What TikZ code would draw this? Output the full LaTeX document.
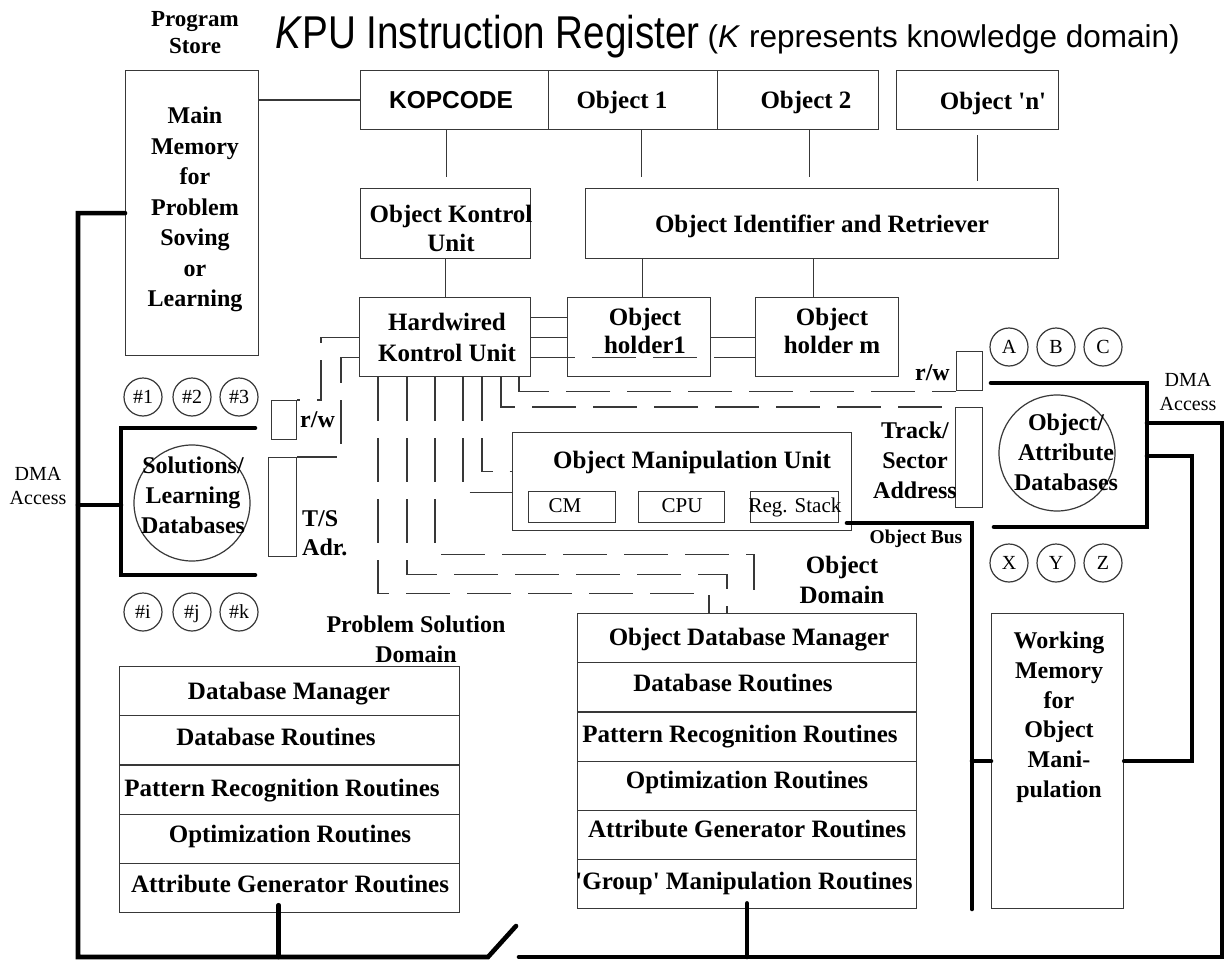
\documentclass[tikz,border=0pt]{standalone}
\usepackage{fontspec}
\setmainfont{Liberation Serif}
\newfontfamily\arialf{Liberation Sans}
\usetikzlibrary{calc}
\definecolor{lc}{gray}{0.22}
\begin{document}
\begin{tikzpicture}[x=1pt,y=-1pt,
  ln/.style={draw=lc, line width=1.2pt},
  dsh/.style={ln, dash pattern=on 44pt off 17pt},
  bus/.style={draw=black, line width=4.6pt, line cap=round},
  bx/.style={draw=lc, line width=1.2pt, inner sep=0pt, anchor=north west, rectangle},
  bt/.style={font=\bfseries\fontsize{25}{30}\selectfont, inner sep=0pt, align=center},
  mt/.style={font=\bfseries\fontsize{24}{30}\selectfont, inner sep=0pt, align=center},
  rt/.style={font=\fontsize{20}{24.5}\selectfont, inner sep=0pt, align=center},
  ct/.style={font=\fontsize{21}{24}\selectfont, inner sep=0pt},
  circ/.style={draw=lc, line width=1.2pt, circle, inner sep=0pt, minimum size=38pt,
    text height=13.5pt, text depth=0pt, font=\fontsize{20}{24}\selectfont},
  big/.style={draw=lc, line width=1.2pt, circle, inner sep=0pt, minimum size=116pt},
]
\useasboundingbox (0,0) rectangle (1225,960);
\fill[white] (0,0) rectangle (1225,960);

% ---------- title ----------
\node[inner sep=0pt, anchor=base west, font=\arialf\fontsize{46}{50}\selectfont] (t1) at (275,49)
  {\scalebox{0.84}[1]{\textit{K}PU Instruction Register}};
\node[inner sep=0pt, anchor=base east, font=\arialf\fontsize{31.5}{36}\selectfont] (t2) at (1180,48)
  {(\textit{K} represents knowledge domain)};
\node[mt, anchor=north, font=\bfseries\fontsize{23}{27}\selectfont] (ps) at (195,10.8) {Program\\Store};

% ---------- boxes ----------
\node[bx, minimum width=133pt, minimum height=285pt] (mm) at (125,70) {};
\node[bx, minimum width=188pt, minimum height=59pt] (kc) at (360,70) {};
\node[bx, minimum width=169pt, minimum height=59pt] (o1c) at (548,70) {};
\node[bx, minimum width=161pt, minimum height=59pt] (o2c) at (717,70) {};
\node[bx, minimum width=162pt, minimum height=59pt] (onc) at (896,70) {};
\node[bx, minimum width=170pt, minimum height=70pt] (okd) at (360,188) {};
\node[bx, minimum width=473pt, minimum height=70pt] (oir) at (585,188) {};
\node[bx, minimum width=171pt, minimum height=79pt] (hw) at (359,297) {};
\node[bx, minimum width=143pt, minimum height=79pt] (h1) at (567,297) {};
\node[bx, minimum width=143pt, minimum height=79pt] (hm) at (755,297) {};
\node[bx, minimum width=339pt, minimum height=98pt] (omu) at (512,432) {};
\node[bx, minimum width=87pt, minimum height=31pt] (cm) at (528,491) {};
\node[bx, minimum width=86pt, minimum height=31pt] (cpu) at (638,491) {};
\node[bx, minimum width=88pt, minimum height=31pt] (rs) at (750,491) {};
\node[bx, minimum width=25pt, minimum height=39pt] (rwl) at (271,400) {};
\node[bx, minimum width=28pt, minimum height=99pt] (tsl) at (268,457) {};
\node[bx, minimum width=26pt, minimum height=39pt] (rwr) at (956,351) {};
\node[bx, minimum width=27pt, minimum height=100pt] (tsr) at (955,407) {};
\node[bx, minimum width=132pt, minimum height=295pt] (wm) at (991,613) {};
\foreach \i in {1,...,5}
  \node[bx, minimum width=340pt, minimum height=49.2pt] (l\i) at (119,{666+49.2*(\i-1)}) {};
\foreach \i in {1,...,6}
  \node[bx, minimum width=339pt, minimum height=49.2pt] (r\i) at (577,{613+49.2*(\i-1)}) {};

% ---------- circles ----------
\node[circ] (c1) at (143,397) {\#1};
\node[circ] (c2) at (192,397) {\#2};
\node[circ] (c3) at (239,397) {\#3};
\node[circ] (ci) at (143,612) {\#i};
\node[circ] (cj) at (192,612) {\#j};
\node[circ] (ck) at (239,612) {\#k};
\node[circ] (cA) at (1009,347) {A};
\node[circ] (cB) at (1056,347) {B};
\node[circ] (cC) at (1103,347) {C};
\node[circ] (cX) at (1009,563) {X};
\node[circ] (cY) at (1056,563) {Y};
\node[circ] (cZ) at (1103,563) {Z};
\node[big] (solc) at (192,503) {};
\node[big] (oac) at (1057,453) {};

% ---------- texts ----------
\node[mt, anchor=north, font=\bfseries\fontsize{24}{30.5}\selectfont] (mmt) at (195,106.7)
  {Main\\Memory\\for\\Problem\\Soving\\or\\Learning};
\node[inner sep=0pt, anchor=base, font=\arialf\bfseries\fontsize{24.5}{26}\selectfont] (kct) at (451,109) {KOPCODE};
\node[bt, anchor=base] (o1t) at (622,109) {Object 1};
\node[bt, anchor=base] (o2t) at (806,109) {Object 2};
\node[bt, anchor=base] (ont) at (993,110) {Object \textquotesingle n\textquotesingle};
\node[bt, anchor=north, font=\bfseries\fontsize{25}{29}\selectfont] (okt) at (451,205) {Object Kontrol\\Unit};
\node[bt, anchor=base] (oirt) at (822,232) {Object Identifier and Retriever};
\node[bt, anchor=north, font=\bfseries\fontsize{25}{31}\selectfont] (hwt) at (447,313) {Hardwired\\Kontrol Unit};
\node[bt, anchor=north, font=\bfseries\fontsize{25}{28}\selectfont] (h1t) at (645,308) {Object\\holder1};
\node[bt, anchor=north, font=\bfseries\fontsize{25}{28}\selectfont] (hmt) at (832,308) {Object\\holder m};
\node[bt, anchor=base] (omut) at (692,468) {Object Manipulation Unit};
\node[ct, anchor=base] (cmt) at (565,512) {CM};
\node[ct, anchor=base] (cput) at (682,512) {CPU};
\node[ct, anchor=base] (rst) at (795,512) {Reg. Stack};
\node[mt, anchor=base west] (rwlt) at (300,427) {r/w};
\node[mt, anchor=north west, align=left, font=\bfseries\fontsize{24}{29}\selectfont] (tslt) at (302,510.5) {T/S\\Adr.};
\node[mt, anchor=base east] (rwrt) at (950,380) {r/w};
\node[mt, anchor=north] (tsrt) at (915,421.5) {Track/\\Sector\\Address};
\node[mt, anchor=north] (solt) at (193,456.5) {Solutions/\\Learning\\Databases};
\node[mt, anchor=north] (oat) at (1066,413.5) {Object/\\Attribute\\Databases};
\node[rt, anchor=north] (dmal) at (38,466.8) {DMA\\Access};
\node[rt, anchor=north] (dmar) at (1188,372.8) {DMA\\Access};
\node[bt, anchor=base, font=\bfseries\fontsize{19.5}{22}\selectfont] (obt) at (916,543) {Object Bus};
\node[bt, anchor=north] (odt) at (842,556) {Object\\Domain};
\node[mt, anchor=north] (pst) at (416,615.7) {Problem Solution\\Domain};
\node[mt, anchor=north, font=\bfseries\fontsize{24}{29.8}\selectfont] (wmt) at (1059,631.7)
  {Working\\Memory\\for\\Object\\Mani-\\pulation};

\node[bt, anchor=base] at (289,699) {Database Manager};
\node[bt, anchor=base] at (276,745) {Database Routines};
\node[bt, anchor=base] at (282,796) {Pattern Recognition Routines};
\node[bt, anchor=base] at (290,842) {Optimization Routines};
\node[bt, anchor=base] at (290,892) {Attribute Generator Routines};

\node[bt, anchor=base] at (749,645) {Object Database Manager};
\node[bt, anchor=base] at (733,691) {Database Routines};
\node[bt, anchor=base] at (740,742) {Pattern Recognition Routines};
\node[bt, anchor=base] at (747,788) {Optimization Routines};
\node[bt, anchor=base] at (747,837) {Attribute Generator Routines};
\node[bt, anchor=base] at (744,889) {\textquotesingle Group\textquotesingle\ Manipulation Routines};

% ---------- coordinates ----------
\coordinate (busL) at (78,957);
\coordinate (brkA) at (488,957);
\coordinate (slashT) at (516,926);
\coordinate (brkB) at (519,957);
\coordinate (busR) at (1222,957);
\coordinate (dmaR) at (1147,423);
\coordinate (sbTR) at (255,428);
\coordinate (sbTL) at (121,428);
\coordinate (sbBL) at (121,575);
\coordinate (sbBR) at (255,575);
\coordinate (sbM) at (121,505);
\coordinate (obTL) at (991,383);
\coordinate (obTR) at (1147,383);
\coordinate (obBR) at (1147,527);
\coordinate (obBL) at (994,527);
\coordinate (obM) at (1147,456);
\coordinate (wmR) at (1192,456);
\coordinate (obS) at (847,523);
\coordinate (obE) at (972,909);
\coordinate (odE) at (754,598);
\coordinate (lsS) at ([xshift=-11pt,yshift=8pt]l5.south);
\coordinate (rsS) at ([yshift=6pt]r6.south);
\coordinate (kcS) at ([xshift=-8pt]kc.south);
\coordinate (o1S) at ([xshift=8.5pt]o1c.south);
\coordinate (o2S) at ([xshift=11.5pt]o2c.south);
\coordinate (onS) at ([yshift=-5pt]onc.south);
\coordinate (h1N) at ([xshift=3pt]h1.north);
\coordinate (hmN) at ([xshift=-13.5pt]hm.north);
\coordinate (hwE1) at ([yshift=20pt]hw.east);
\coordinate (hwE3) at ([yshift=-20pt]hw.east);
\coordinate (hwW3) at ([yshift=-20pt]hw.west);
\foreach \n/\dx in {1/19,2/48,3/76,4/104,5/123,6/142,7/160}
  \coordinate (hb\n) at ([xshift=\dx pt]hw.south west);

% ---------- thin connectors ----------
\draw[ln] (kc.west) -- (kc.west -| mm.east);
\draw[ln] (kcS) -- ++(0,47);
\draw[ln] (o1S) -- ++(0,47);
\draw[ln] (o2S) -- ++(0,47);
\draw[ln] (onS) -- ++(0,46);
\draw[ln] (okd.south) -- (okd.south |- hw.north);
\draw[ln] (h1N) -- (h1N |- oir.south);
\draw[ln] (hmN) -- (hmN |- oir.south);
\draw[ln] (hwE1) -- (hwE1 -| h1.west);
\draw[ln] (hw.east) -- (h1.west);
\draw[dsh] (hwE3) -- (hwE3 -| hm.west);
\draw[ln] (h1.east) -- (hm.west);
\draw[dsh] (hw.west) -- ++(-38,0) |- (rwl.north east);
\draw[dsh] (hwW3) -- ++(-18,0) |- (tsl.north east);
\draw[dsh] (hb1) -- ++(0,216) -| ([xshift=132pt]r1.north west);
\draw[dsh] (hb2) -- ++(0,197) -| ([xshift=150pt]r1.north west);
\draw[dsh] (hb3) -- ++(0,177) -| (odE);
\draw[dsh] (hb4) |- ([yshift=-11pt]omu.west);
\draw[dsh] (hb5) |- ([yshift=10pt]omu.west);
\draw[dsh] (hb6) |- (tsr.north west);
\draw[dsh] (hb7) |- (rwr.south west);

% ---------- thick buses ----------
\draw[bus] (mm.west) -| (busL) -- (brkA) -- (slashT);
\draw[bus] (brkB) -- (busR) |- (dmaR);
\draw[bus] (sbTR) -- (sbTL) -- (sbBL) -- (sbBR);
\draw[bus] (busL |- sbM) -- (sbM);
\draw[bus] (obTL) -- (obTR) -- (obBR) -- (obBL);
\draw[bus] (obS) -| (obE);
\draw[bus] (obE |- wm.west) -- (wm.west);
\draw[bus] (wm.east) -| (wmR) -- (obM);
\draw[bus] (lsS) -- (lsS |- busL);
\draw[bus] (rsS) -- (rsS |- busR);
\end{tikzpicture}
\end{document}
